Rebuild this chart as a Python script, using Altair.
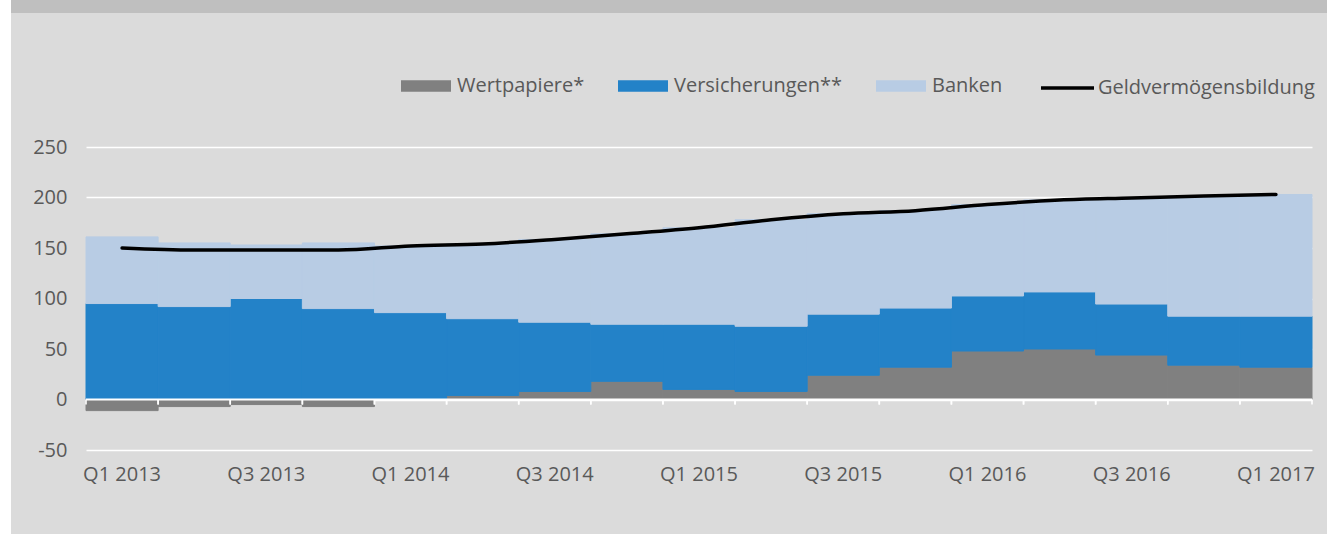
import altair as alt
import pandas as pd

quarters = ["Q1 2013", "Q2 2013", "Q3 2013", "Q4 2013", "Q1 2014", "Q2 2014", "Q3 2014", "Q4 2014",
            "Q1 2015", "Q2 2015", "Q3 2015", "Q4 2015", "Q1 2016", "Q2 2016", "Q3 2016", "Q4 2016", "Q1 2017"]
wertpapiere = [-11, -7, -5, -7, 0, 4, 8, 18, 10, 8, 24, 32, 48, 50, 44, 34, 32]
versicherungen = [95, 92, 100, 90, 86, 76, 68.5, 56.5, 64.5, 64.5, 60.5, 58.5, 54.5, 56.5, 50.5, 48.5, 50.5]
banken = [66, 63, 53, 65, 66, 74, 82, 89.5, 95.5, 105.5, 99.5, 96.5, 90.5, 91, 105, 119, 120.5]
geldvermoegensbildung = [150, 148, 148, 148, 152, 154, 158.5, 164, 170, 178, 184, 187, 193, 197.5,
                         199.5, 201.5, 203]
series_names = ["Wertpapiere*", "Versicherungen**", "Banken"]
series_colors = ["#808080", "#2382c8", "#b8cce4"]
line_name = "Geldvermögensbildung"
y_ticks = [-50, 0, 50, 100, 150, 200, 250]

rows = []
for rank, (name, vals) in enumerate(zip(series_names, [wertpapiere, versicherungen, banken])):
    for q, v in zip(quarters, vals):
        rows.append({"Quartal": q, "Serie": name, "Wert": v, "rank": rank})
bars_df = pd.DataFrame(rows)
line_df = pd.DataFrame({"Quartal": quarters, "Wert": geldvermoegensbildung, "Serie": line_name})
ticks_df = pd.DataFrame({"Quartal": quarters})
one_df = pd.DataFrame({"a": [0]})

FONT = "Open Sans"
TXT = "#595959"

xscale = alt.Scale(domain=quarters, paddingInner=0, paddingOuter=0)
yscale = alt.Scale(domain=[-50, 250], nice=False)

x_enc = alt.X("Quartal:N", scale=xscale, sort=quarters,
              axis=alt.Axis(values=quarters[::2], labelAngle=0, domain=False, ticks=False, grid=False,
                            labelPadding=14, labelFontSize=20, labelFont=FONT, labelColor=TXT,
                            labelOverlap=False, title=None))
y_axis = alt.Axis(values=y_ticks, grid=True, gridColor="white", gridWidth=1.6, domain=False,
                  ticks=False, labelFontSize=20, labelFont=FONT, labelColor=TXT, labelPadding=19,
                  labelExpr="toString(datum.value)", title=None)

left_strip = alt.Chart(one_df).mark_rect(color="white").encode(
    x=alt.value(-86), x2=alt.value(-75), y=alt.value(-147), y2=alt.value(387))
top_bar = alt.Chart(one_df).mark_rect(color="#bfbfbf").encode(
    x=alt.value(-75), x2=alt.value(1241), y=alt.value(-147), y2=alt.value(-134))

bars = alt.Chart(bars_df).mark_bar(strokeWidth=1).encode(
    x=x_enc,
    y=alt.Y("Wert:Q", stack="zero", scale=yscale, axis=y_axis),
    color=alt.Color("Serie:N", scale=alt.Scale(domain=series_names, range=series_colors),
                    legend=alt.Legend(orient="none", legendX=315, legendY=-86, direction="horizontal",
                                      title=None, symbolType="M-1,-0.23H1V0.23H-1Z", symbolSize=2500,
                                      symbolStrokeWidth=0, labelFontSize=20, labelFont=FONT,
                                      labelColor=TXT, labelOffset=6, columnPadding=33, padding=0,
                                      labelLimit=0)),
    stroke=alt.Stroke("Serie:N", scale=alt.Scale(domain=series_names, range=series_colors), legend=None),
    order=alt.Order("rank:Q"),
)

zero_rule = alt.Chart(one_df).mark_rule(color="white", strokeWidth=2).encode(y=alt.datum(0))

ticks0 = alt.Chart(ticks_df).mark_rule(color="white", strokeWidth=1.6).encode(
    x=alt.X("Quartal:N", scale=xscale, sort=quarters, bandPosition=0),
    y=alt.datum(0), y2=alt.datum(-5))
ticks1 = alt.Chart(ticks_df).mark_rule(color="white", strokeWidth=1.6).encode(
    x=alt.X("Quartal:N", scale=xscale, sort=quarters, bandPosition=1),
    y=alt.datum(0), y2=alt.datum(-5))

line = alt.Chart(line_df).mark_line(interpolate="monotone", strokeWidth=3.5, strokeCap="round").encode(
    x=alt.X("Quartal:N", scale=xscale, sort=quarters),
    y=alt.Y("Wert:Q", scale=yscale),
    stroke=alt.Stroke("Serie:N", scale=alt.Scale(domain=[line_name], range=["black"]),
                      legend=alt.Legend(orient="none", legendX=953, legendY=-87.5, title=None,
                                        symbolType="stroke", symbolSize=2809, symbolStrokeWidth=3.5,
                                        labelFontSize=20, labelFont=FONT, labelColor=TXT,
                                        labelOffset=2, padding=0, labelLimit=0)),
)

chart = alt.layer(left_strip, top_bar, bars, zero_rule, ticks0, ticks1, line).properties(
    width=1226, height=303,
    autosize=alt.AutoSizeParams(type="none"),
    padding={"left": 86, "top": 147, "right": 15, "bottom": 84},
    background="#dbdbdb",
).configure_view(stroke=None).resolve_scale(color="independent", stroke="independent")

chart.save("out.html", embed_options={"renderer": "svg", "actions": False})
